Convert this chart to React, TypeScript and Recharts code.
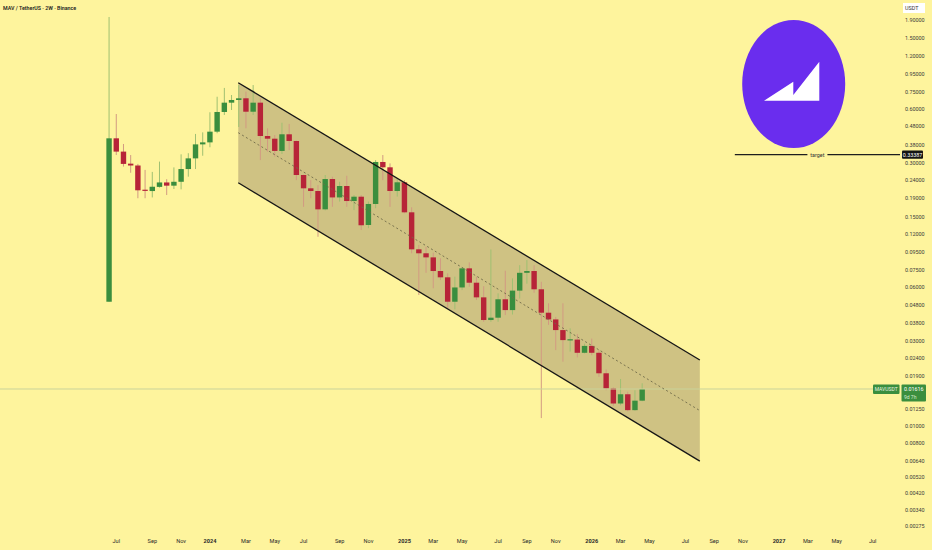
import React from 'react';
import { ComposedChart, Bar, Area, Line, XAxis, YAxis, ReferenceLine } from 'recharts';

// 2W candles, MAV/USDT, first bar week of 2023-06-19
const opens = [
  0.0499, 0.412, 0.347, 0.297, 0.29, 0.211, 0.2085, 0.22, 0.233, 0.2235,
  0.235, 0.277, 0.318, 0.381, 0.391, 0.449, 0.579, 0.653, 0.676, 0.691,
  0.581, 0.653, 0.4245, 0.41, 0.35, 0.434, 0.398, 0.2565, 0.216, 0.2086,
  0.1646, 0.2435, 0.192, 0.2225, 0.1833, 0.1938, 0.1345, 0.1764, 0.3035, 0.2833,
  0.2086, 0.2334, 0.1584, 0.0982, 0.0933, 0.0885, 0.0742, 0.0684, 0.0499, 0.06,
  0.0768, 0.0638, 0.0528, 0.0394, 0.0406, 0.0515, 0.0448, 0.0576, 0.0725, 0.0742,
  0.0586, 0.0433, 0.0397, 0.0346, 0.0304, 0.0306, 0.0258, 0.0282, 0.0258, 0.0198,
  0.0163, 0.0134, 0.0151, 0.0123, 0.0139,
];
const highs = [
  1.975, 0.564, 0.383, 0.332, 0.296, 0.274, 0.267, 0.305, 0.243, 0.283,
  0.335, 0.34, 0.436, 0.445, 0.577, 0.705, 0.79, 0.721, 0.82, 0.753,
  0.82, 0.691, 0.469, 0.43, 0.504, 0.496, 0.4, 0.258, 0.24, 0.225,
  0.2565, 0.251, 0.235, 0.254, 0.198, 0.198, 0.182, 0.311, 0.332, 0.298,
  0.243, 0.24, 0.169, 0.104, 0.1015, 0.094, 0.0875, 0.072, 0.069, 0.078,
  0.083, 0.069, 0.061, 0.098, 0.0556, 0.0745, 0.0675, 0.08, 0.0855, 0.08,
  0.0646, 0.0489, 0.041, 0.0489, 0.0354, 0.0329, 0.029, 0.031, 0.0267, 0.0208,
  0.0165, 0.0184, 0.0156, 0.0159, 0.0174,
];
const lows = [
  0.0499, 0.332, 0.286, 0.264, 0.19, 0.19, 0.192, 0.218, 0.198, 0.214,
  0.213, 0.251, 0.277, 0.329, 0.367, 0.44, 0.557, 0.594, 0.477, 0.469,
  0.557, 0.311, 0.347, 0.325, 0.3365, 0.354, 0.24, 0.17, 0.19, 0.1155,
  0.1625, 0.17, 0.182, 0.17, 0.163, 0.126, 0.129, 0.167, 0.24, 0.17,
  0.194, 0.1565, 0.0933, 0.0544, 0.0725, 0.0594, 0.066, 0.0458, 0.0452, 0.058,
  0.0605, 0.051, 0.0385, 0.0385, 0.0385, 0.042, 0.0423, 0.052, 0.063, 0.056,
  0.0111, 0.037, 0.0267, 0.023, 0.0262, 0.0243, 0.0256, 0.025, 0.0189, 0.0159,
  0.013, 0.0131, 0.0121, 0.0122, 0.0138,
];
const closes = [
  0.412, 0.347, 0.296, 0.29, 0.2105, 0.21, 0.2204, 0.233, 0.2235, 0.235,
  0.277, 0.318, 0.381, 0.391, 0.449, 0.579, 0.653, 0.676, 0.691, 0.581,
  0.653, 0.4245, 0.41, 0.35, 0.434, 0.398, 0.2565, 0.216, 0.2086, 0.1646,
  0.2435, 0.192, 0.2225, 0.1833, 0.1938, 0.134, 0.1764, 0.3035, 0.2833, 0.2086,
  0.2334, 0.1584, 0.0982, 0.0933, 0.0885, 0.0742, 0.0684, 0.0499, 0.06, 0.0768,
  0.0638, 0.0528, 0.0394, 0.0406, 0.0515, 0.0448, 0.0576, 0.0725, 0.0742, 0.0586,
  0.0433, 0.0397, 0.0346, 0.0304, 0.0306, 0.0258, 0.0282, 0.0258, 0.0198, 0.0163,
  0.0134, 0.0151, 0.0123, 0.0139, 0.01616,
];

// descending channel (days from 2024-01-01, price)
const channelDays = [55, 952];
const channelUpper = [0.845, 0.0235];
const channelMid = [0.443, 0.01223];
const channelLower = [0.2322, 0.00637];

const targetPrice = 0.33387;
const targetFromDay = 1020;

const yTicks = [
  1.9, 1.5, 1.2, 0.95, 0.75, 0.6, 0.48, 0.38, 0.3, 0.24, 0.19, 0.15, 0.12, 0.095,
  0.075, 0.06, 0.048, 0.038, 0.03, 0.024, 0.019, 0.0125, 0.01, 0.008, 0.0064,
  0.0052, 0.0042, 0.0034, 0.00275,
];
const tickMonths = [
  '2023-07', '2023-09', '2023-11', '2024-01', '2024-03', '2024-05', '2024-07', '2024-09', '2024-11',
  '2025-01', '2025-03', '2025-05', '2025-07', '2025-09', '2025-11', '2026-01', '2026-03', '2026-05',
  '2026-07', '2026-09', '2026-11', '2027-01', '2027-03', '2027-05', '2027-07',
];
const tickLabels = [
  'Jul', 'Sep', 'Nov', '2024', 'Mar', 'May', 'Jul', 'Sep', 'Nov',
  '2025', 'Mar', 'May', 'Jul', 'Sep', 'Nov', '2026', 'Mar', 'May',
  'Jul', 'Sep', 'Nov', '2027', 'Mar', 'May', 'Jul',
];

const firstBarDay = -196;
const barStep = 14;
const X_MIN = -408;
const X_MAX = 1341;
const Y_MIN = 0.002548;
const Y_MAX = 2.46;

const BG = '#FEF49D';
const UP = '#3A8E3E';
const DOWN = '#B72438';
const WICK_UP = '#9FC072';
const WICK_DOWN = '#D29A82';
const BODY_W = 5.4;
const FONT = 'Roboto, "Liberation Sans", sans-serif';

const candles = opens.map((o, i) => ({
  t: firstBarDay + barStep * i,
  o,
  h: highs[i],
  l: lows[i],
  c: closes[i],
}));

const channelData = channelDays.map((t, i) => ({
  t,
  hi: channelUpper[i],
  mid: channelMid[i],
  lo: channelLower[i],
}));

const dayOf = (m: string) =>
  (Date.parse(m + '-01T00:00:00Z') - Date.UTC(2024, 0, 1)) / 86400000;
// TradingView puts the month label on the first bar of that month
const xTicks = tickMonths.map(
  (m) => firstBarDay + barStep * Math.ceil((dayOf(m) - firstBarDay) / barStep)
);

const Candle = (props: any) => {
  const { x, y, width, height, payload } = props;
  if (!payload) return null;
  const top = Math.min(y, y + height);
  const bot = Math.max(y, y + height);
  const lh = Math.log(payload.h);
  const span = lh - Math.log(payload.l) || 1;
  const py = (p: number) => top + ((lh - Math.log(p)) / span) * (bot - top);
  const up = payload.c >= payload.o;
  const yo = py(payload.o);
  const yc = py(payload.c);
  let bh = Math.abs(yo - yc);
  const bt = Math.min(yo, yc) - (bh < 1.2 ? (1.2 - bh) / 2 : 0);
  if (bh < 1.2) bh = 1.2;
  const cx = x + width / 2;
  return (
    <g>
      <line x1={cx} x2={cx} y1={top} y2={bot} stroke={up ? WICK_UP : WICK_DOWN} strokeWidth={1} />
      <rect x={cx - BODY_W / 2} y={bt} width={BODY_W} height={bh} fill={up ? UP : DOWN} />
    </g>
  );
};

const XTick = (props: any) => {
  const { x, index } = props;
  const label = tickLabels[index];
  const isYear = /^\d{4}$/.test(label);
  return (
    <text x={x} y={543} textAnchor="middle" fontSize={5.6} fontFamily={FONT}
      fontWeight={isYear ? 700 : 400} fill="#2a2a2a">
      {label}
    </text>
  );
};

const YTick = (props: any) => {
  const { y, payload } = props;
  return (
    <text x={905} y={y + 2} fontSize={5.4} fontFamily={FONT} fill="#3a3a3a">
      {payload.value.toFixed(5)}
    </text>
  );
};

const TargetLabel = (props: any) => {
  const vb = props.viewBox;
  if (!vb) return null;
  const cx = vb.x + vb.width / 2;
  const y = vb.y;
  return (
    <g fontFamily={FONT}>
      <rect x={cx - 10} y={y - 4} width={20} height={8} fill={BG} />
      <text x={cx} y={y + 2} textAnchor="middle" fontSize={5.4} fill="#333">target</text>
      <rect x={vb.x + vb.width + 2} y={y - 4.2} width={21} height={8.4} fill="#141414" rx={1} />
      <text x={vb.x + vb.width + 12.5} y={y + 2} textAnchor="middle" fontSize={5.4} fill="#fff">
        {targetPrice.toFixed(5)}
      </text>
    </g>
  );
};

const PriceLabel = (props: any) => {
  const vb = props.viewBox;
  if (!vb) return null;
  const right = vb.x + vb.width;
  const y = vb.y;
  return (
    <g fontFamily={FONT}>
      <rect x={right - 27} y={y - 4.5} width={26.5} height={9.5} fill={UP} rx={1} />
      <text x={right - 13.8} y={y + 2} textAnchor="middle" fontSize={5} fill="#e8f3e0">MAVUSDT</text>
      <rect x={right + 1.5} y={y - 4.5} width={24.5} height={17} fill={UP} rx={1} />
      <text x={right + 4} y={y + 2} fontSize={5.4} fill="#fff">{closes[closes.length - 1].toFixed(5)}</text>
      <text x={right + 4} y={y + 9.5} fontSize={5} fill="#d8ecd0">9d 7h</text>
    </g>
  );
};

const Logo = () => (
  <svg width={932} height={550} style={{ position: 'absolute', left: 0, top: 0, pointerEvents: 'none' }}>
    <ellipse cx={793.7} cy={84} rx={51.5} ry={64} fill="#6A2DEE" />
    <polygon points="764,100.7 793.3,81.7 793.3,95 819.3,61.7 819.3,100.7" fill="#ffffff" />
  </svg>
);

export default function App() {
  return (
    <div style={{ position: 'absolute', left: 0, top: 0, width: 932, height: 550, background: BG, overflow: 'hidden' }}>
      <ComposedChart width={932} height={550} data={candles} margin={{ top: 0, right: 0, bottom: 0, left: 0 }}>
        <XAxis
          type="number"
          dataKey="t"
          domain={[X_MIN, X_MAX]}
          allowDataOverflow
          ticks={xTicks}
          interval={0}
          height={18}
          axisLine={false}
          tickLine={false}
          tick={<XTick />}
        />
        <YAxis
          orientation="right"
          scale="log"
          domain={[Y_MIN, Y_MAX]}
          allowDataOverflow
          ticks={yTicks}
          interval={0}
          width={32}
          axisLine={false}
          tickLine={false}
          tick={<YTick />}
        />
        <Area
          data={channelData}
          dataKey={(d: any) => [d.lo, d.hi]}
          type="linear"
          stroke="none"
          fill="#CFC283"
          fillOpacity={1}
          dot={false}
          activeDot={false}
          isAnimationActive={false}
        />
        <ReferenceLine y={closes[closes.length - 1]} stroke="#C9D39A" strokeWidth={1} label={<PriceLabel />} />
        <Line data={channelData} dataKey="mid" type="linear" stroke="#6f6a48" strokeWidth={0.9}
          strokeDasharray="2 2.5" dot={false} activeDot={false} isAnimationActive={false} />
        <Bar dataKey={(d: any) => [d.l, d.h]} barSize={5} shape={<Candle />} activeBar={false} isAnimationActive={false} />
        <Line data={channelData} dataKey="hi" type="linear" stroke="#161616" strokeWidth={1.3}
          dot={false} activeDot={false} isAnimationActive={false} />
        <Line data={channelData} dataKey="lo" type="linear" stroke="#161616" strokeWidth={1.3}
          dot={false} activeDot={false} isAnimationActive={false} />
        <ReferenceLine
          segment={[{ x: targetFromDay, y: targetPrice }, { x: X_MAX, y: targetPrice }]}
          stroke="#1e1e1e"
          strokeWidth={1.2}
          label={<TargetLabel />}
        />
      </ComposedChart>
      <Logo />
      <div style={{ position: 'absolute', left: 3, top: 5, fontFamily: FONT, fontSize: 5.3, fontWeight: 600, color: '#1e1e1e', whiteSpace: 'nowrap' }}>
        MAV / TetherUS · 2W · Binance
      </div>
      <div style={{ position: 'absolute', left: 903, top: 3, width: 22, height: 10, background: '#ffffff', fontFamily: FONT, fontSize: 5.4, color: '#333', lineHeight: '10px', paddingLeft: 2, boxSizing: 'border-box' }}>
        USDT
      </div>
    </div>
  );
}
